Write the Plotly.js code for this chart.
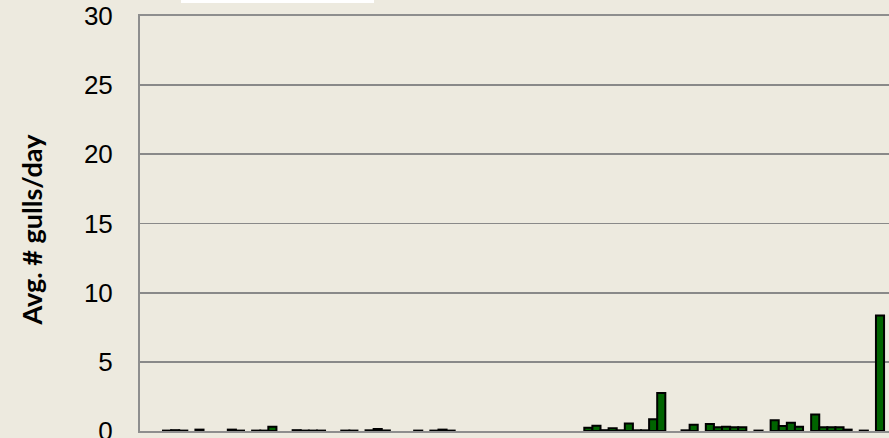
<!DOCTYPE html>
<html>
<head>
<meta charset="utf-8">
<script src="https://cdn.plot.ly/plotly-3.0.1.min.js"></script>
<style>
  html, body { margin: 0; padding: 0; overflow: hidden; background: rgb(237,234,223); }
  #chart { width: 960px; height: 500px; }
</style>
</head>
<body>
<div id="chart"></div>
<script>
// slot number of each bar (empty slots are left out) and avg gulls per day
let slots = [4, 5, 6, 8, 12, 13, 15, 16, 17, 20, 21, 22, 23, 26, 27, 29, 30, 31, 35, 37, 38, 39,
             56, 57, 58, 59, 60, 61, 62, 63, 64, 65, 68, 69, 71, 72, 73, 74, 75, 77,
             79, 80, 81, 82, 84, 85, 86, 87, 88, 90, 92];
let gulls = [0.03, 0.06, 0.03, 0.1, 0.1, 0.03, 0.03, 0.03, 0.3, 0.06, 0.03, 0.03, 0.03, 0.03, 0.03, 0.05, 0.15, 0.04, 0.03, 0.03, 0.1, 0.03,
             0.24, 0.38, 0.06, 0.2, 0.05, 0.55, 0.05, 0.05, 0.85, 2.75, 0.05, 0.46, 0.5, 0.27, 0.3, 0.27, 0.27, 0.03,
             0.77, 0.36, 0.6, 0.3, 1.2, 0.27, 0.27, 0.27, 0.1, 0.03, 8.35];

let yTicks = [0, 5, 10, 15, 20, 25, 30];

let W = 960, H = 500;
let mL = 140, mT = 16, mR = 65, mB = 68.5;
let plotW = W - mL - mR, plotH = H - mT - mB;

let bars = {
    x: slots,
    y: gulls,
    type: 'bar',
    width: 1,
    marker: { color: '#006400', line: { color: '#000000', width: 2 } },
    hoverinfo: 'y'
};

let layout = {
    width: W,
    height: H,
    margin: { l: mL, r: mR, t: mT, b: mB, pad: 0 },
    paper_bgcolor: 'rgb(237,234,223)',
    plot_bgcolor: 'rgb(237,234,223)',
    showlegend: false,
    bargap: 0,
    xaxis: {
        range: [0.66, 93.85],
        showgrid: false,
        zeroline: false,
        showticklabels: false,
        ticks: '',
        showline: true,
        mirror: true,
        linecolor: '#8e8e8e',
        linewidth: 2
    },
    yaxis: {
        range: [0, 30],
        tickvals: yTicks,
        ticktext: yTicks.map(String),
        showgrid: true,
        gridcolor: '#898989',
        gridwidth: 1.8,
        zeroline: false,
        showline: true,
        linecolor: '#8e8e8e',
        linewidth: 2,
        ticks: '',
        ticklabelstandoff: 20,
        tickfont: { family: 'Liberation Sans, Arial, sans-serif', size: 26, color: '#000' }
    },
    annotations: [{
        text: 'Avg. # gulls/day',
        xref: 'paper', yref: 'paper',
        x: (31 - mL) / plotW, y: 0.5 - 6 / plotH,
        xanchor: 'center', yanchor: 'middle',
        textangle: -90,
        showarrow: false,
        font: { family: 'Lato, Carlito, sans-serif', size: 27, color: '#000', weight: 'bold' }
    }],
    shapes: [{
        type: 'rect', xref: 'paper', yref: 'paper', layer: 'above',
        x0: (181 - mL) / plotW, x1: (374 - mL) / plotW,
        y0: 1 + (mT - 3) / plotH, y1: 1 + mT / plotH,
        fillcolor: '#ffffff', line: { width: 0 }
    }]
};

Plotly.newPlot('chart', [bars], layout, { displayModeBar: false, staticPlot: true });
</script>
</body>
</html>
